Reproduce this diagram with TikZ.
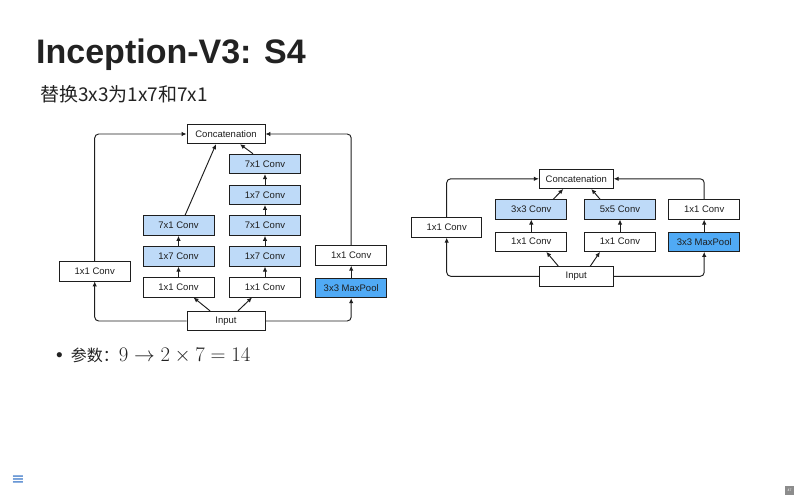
\documentclass[tikz,border=0pt]{standalone}
\usepackage{fontspec}
\usepackage{amsmath}
\usepackage{tikz}
\usetikzlibrary{arrows.meta,positioning}
\setmainfont{Liberation Sans}
\newfontfamily\cjk{Noto Sans CJK SC}
\newfontfamily\symfont{DejaVu Sans}
\definecolor{convblue}{RGB}{190, 218, 248}
\definecolor{poolblue}{RGB}{80, 170, 245}
\definecolor{linegray}{RGB}{30, 30, 30}
\definecolor{titleblack}{RGB}{34, 34, 34}
\definecolor{navblue}{RGB}{60, 120, 200}

\begin{document}
\begin{tikzpicture}[
    x=1pt, y=-1pt,
    every node/.style={align=center},
    conv/.style={rectangle, draw=linegray, fill=white, line width=0.85pt, minimum width=71pt, minimum height=19.5pt, inner sep=0pt, text=linegray, font=\fontsize{9.5}{11}\selectfont},
    convb/.style={conv, fill=convblue},
    pool/.style={conv, fill=poolblue},
    concat/.style={conv, minimum width=78pt},
    arrow/.style={line width=0.95pt, draw=linegray, -{Latex[length=5pt,width=4.5pt]}},
    cornerarrow/.style={arrow, rounded corners=4pt}
]
\useasboundingbox (0,0) rectangle (800,500);

% Title and text
\node[anchor=base west, inner sep=0pt, text=titleblack, font=\bfseries\fontsize{34}{40}\selectfont] (title) at (36,63.5) {Inception-V3: S4};
\node[anchor=base west, inner sep=0pt, text=titleblack, font=\cjk\fontsize{19}{21}\selectfont] (subtitle) at (40,102) {替换3x3为1x7和7x1};
\node[anchor=base west, inner sep=0pt, text=titleblack] (bullet) at (56,361.5)
    {\fontsize{19}{21}\selectfont\textbullet\hspace{8pt}{\cjk\fontsize{16}{18}\selectfont 参数：}\fontsize{19.2}{22}\selectfont$9\to2\times7=14$};

% Left block (7x1 / 1x7)
\node[concat] (lcat) at (226,134) {Concatenation};
\node[concat] (linput) at (226,321) {Input};
\node[conv] (la1) at (94.7,271.2) {1x1 Conv};
\node[conv] (lb1) at (178.5,287.3) {1x1 Conv};
\node[convb, above=10.5pt of lb1] (lb2) {1x7 Conv};
\node[convb, above=10.5pt of lb2] (lb3) {7x1 Conv};
\node[conv] (lc1) at (265,287.3) {1x1 Conv};
\node[convb, above=10.5pt of lc1] (lc2) {1x7 Conv};
\node[convb, above=10.5pt of lc2] (lc3) {7x1 Conv};
\node[convb, above=10.5pt of lc3] (lc4) {1x7 Conv};
\node[convb, above=10.5pt of lc4] (lc5) {7x1 Conv};
\node[pool] (ld1) at (351.2,288) {3x3 MaxPool};
\node[conv] (ld2) at (351.2,255.5) {1x1 Conv};

% Left arrows
\draw[cornerarrow] (linput.west) -| (la1.south);
\draw[cornerarrow] (la1.north) |- (lcat.west);
\draw[cornerarrow] (linput.east) -| (ld1.south);
\draw[cornerarrow] (ld2.north) |- (lcat.east);
\draw[arrow] ([xshift=-16pt]linput.north) -- ([xshift=15pt]lb1.south);
\draw[arrow] ([xshift=12pt]linput.north) -- ([xshift=-13pt]lc1.south);
\draw[arrow] (lb1) -- (lb2);
\draw[arrow] (lb2) -- (lb3);
\draw[arrow] (lc1) -- (lc2);
\draw[arrow] (lc2) -- (lc3);
\draw[arrow] (lc3) -- (lc4);
\draw[arrow] (lc4) -- (lc5);
\draw[arrow] (ld1) -- (ld2);
\draw[arrow] ([xshift=6.5pt]lb3.north) -- ([xshift=-10pt]lcat.south);
\draw[arrow] ([xshift=-12pt]lc5.north) -- ([xshift=14pt]lcat.south);

% Right block (original)
\node[concat, minimum width=74pt] (rcat) at (576.3,178.8) {Concatenation};
\node[concat, minimum width=74pt] (rinput) at (576.3,276.3) {Input};
\node[conv, minimum width=70pt] (ra1) at (446.7,227.5) {1x1 Conv};
\node[conv] (rb1) at (531.3,241.7) {1x1 Conv};
\node[convb, above=12pt of rb1] (rb2) {3x3 Conv};
\node[conv] (rc1) at (620,241.7) {1x1 Conv};
\node[convb, above=12pt of rc1] (rc2) {5x5 Conv};
\node[pool] (rd1) at (704.2,241.7) {3x3 MaxPool};
\node[conv, above=12pt of rd1] (rd2) {1x1 Conv};

% Right arrows
\draw[cornerarrow] (rinput.west) -| (ra1.south);
\draw[cornerarrow] (ra1.north) |- (rcat.west);
\draw[cornerarrow] (rinput.east) -| (rd1.south);
\draw[cornerarrow] (rd2.north) |- (rcat.east);
\draw[arrow] ([xshift=-18pt]rinput.north) -- ([xshift=15pt]rb1.south);
\draw[arrow] ([xshift=14pt]rinput.north) -- ([xshift=-20pt]rc1.south);
\draw[arrow] (rb1) -- (rb2);
\draw[arrow] (rc1) -- (rc2);
\draw[arrow] (rd1) -- (rd2);
\draw[arrow] ([xshift=22pt]rb2.north) -- ([xshift=-13pt]rcat.south);
\draw[arrow] ([xshift=-20pt]rc2.north) -- ([xshift=15pt]rcat.south);

% Footer
\node[inner sep=0pt, text=navblue, font=\symfont\fontsize{16}{16}\selectfont] (menu) at (18,480) {≡};
\node[fill=black!45, text=white, inner sep=1pt, minimum size=9pt, font=\fontsize{3.5}{4}\selectfont] (page) at (789.5,490.5) {47};
\end{tikzpicture}
\end{document}
